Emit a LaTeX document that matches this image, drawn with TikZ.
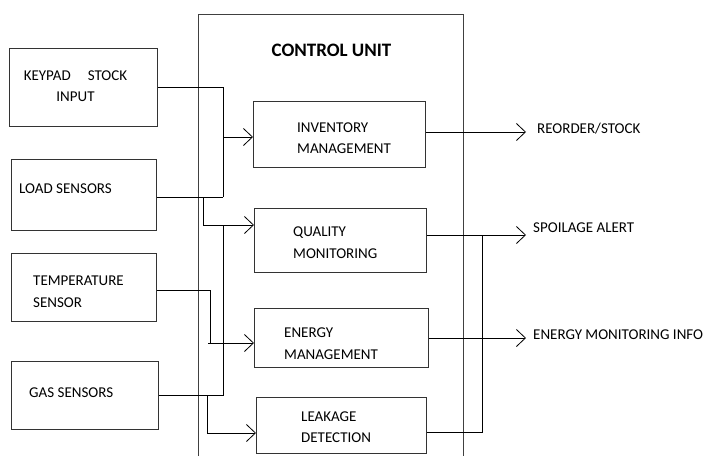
\documentclass[tikz,border=0pt]{standalone}
\usepackage{fontspec}
\setmainfont{Carlito}
\usetikzlibrary{arrows.meta}
\begin{document}
\begin{tikzpicture}[x=1pt,y=-1pt,
  box/.style={draw=black!80, line width=1pt, inner sep=0pt, anchor=north west},
  lbl/.style={inner sep=0pt, font=\fontsize{15}{21.5}\selectfont, align=left, anchor=west, text=black},
  wire/.style={line width=1pt, draw=black},
  arr/.style={wire, -{Straight Barb[length=9pt,width=17pt,line width=0.8pt]}}]
\useasboundingbox (0,0) rectangle (704,456);
% control unit (open at the bottom)
\draw[draw=black!75, line width=1pt] (198,456) -- (198,14) -- (463,14) -- (463,456);
\node[inner sep=0pt, font=\bfseries\fontsize{19}{22}\selectfont] (title) at (331.5,50) {CONTROL UNIT};
% input boxes
\node[box, minimum width=148pt, minimum height=78pt] (kp) at (9,48) {};
\node[box, minimum width=145pt, minimum height=71pt] (ls) at (11,159) {};
\node[box, minimum width=145pt, minimum height=68pt] (ts) at (11,253) {};
\node[box, minimum width=147pt, minimum height=68pt] (gs) at (11,361) {};
% inner boxes
\node[box, minimum width=172pt, minimum height=66pt] (inv) at (253,101) {};
\node[box, minimum width=172pt, minimum height=64pt] (qm) at (254,208) {};
\node[box, minimum width=174pt, minimum height=59pt] (em) at (254,308) {};
\node[box, minimum width=170pt, minimum height=56pt] (ld) at (256,397) {};
% labels
\node[lbl, align=center, anchor=center] (kpt) at (75.5,86) {KEYPAD\hspace{17pt}STOCK\\INPUT};
\node[lbl] (lst) at (19,189) {LOAD SENSORS};
\node[lbl] (tst) at (33,291.5) {TEMPERATURE\\SENSOR};
\node[lbl] (gst) at (29,393) {GAS SENSORS};
\node[lbl] (invt) at (297,138) {INVENTORY\\MANAGEMENT};
\node[lbl] (qmt) at (293,242.5) {QUALITY\\MONITORING};
\node[lbl] (emt) at (284,343.5) {ENERGY\\MANAGEMENT};
\node[lbl] (ldt) at (301,427) {LEAKAGE\\DETECTION};
\node[lbl] (o1) at (537,129) {REORDER/STOCK};
\node[lbl] (o2) at (533,228) {SPOILAGE ALERT};
\node[lbl] (o3) at (533,335) {ENERGY MONITORING INFO};
% junction coordinates
\coordinate (k1) at (223,87);
\coordinate (k2) at (223,197);
\coordinate (k3) at (223,137);
\coordinate (l1) at (203,197);
\coordinate (l2) at (203,225);
\coordinate (g1) at (223,395);
\coordinate (g2) at (223,225);
\coordinate (g3) at (207,395);
\coordinate (g4) at (207,433);
\coordinate (t1) at (210,290);
\coordinate (t2) at (210,343);
\coordinate (t3) at (208,343);
\coordinate (r1) at (526,132);
\coordinate (r2) at (526,235);
\coordinate (r3) at (526,338);
\coordinate (j1) at (482,235);
\coordinate (j2) at (482,432);
% left connectors
\draw[wire] (kp.east |- k1) -- (k1) -- (k2);
\draw[wire] (ls.east |- k2) -- (k2);
\draw[arr] (k3) -- (inv.west |- k3);
\draw[wire] (l1) -- (l2);
\draw[arr] (l2) -- (qm.west |- l2);
\draw[wire] (gs.east |- g1) -- (g1) -- (g2);
\draw[wire] (g3) -- (g4);
\draw[arr] (g4) -- (ld.west |- g4);
\draw[wire] (ts.east |- t1) -- (t1) -- (t2);
\draw[arr] (t3) -- (em.west |- t3);
% right connectors
\draw[arr] (inv.east |- r1) -- (r1);
\draw[arr] (qm.east |- r2) -- (r2);
\draw[arr] (em.east |- r3) -- (r3);
\draw[wire] (ld.east |- j2) -- (j2) -- (j1);
\end{tikzpicture}
\end{document}
